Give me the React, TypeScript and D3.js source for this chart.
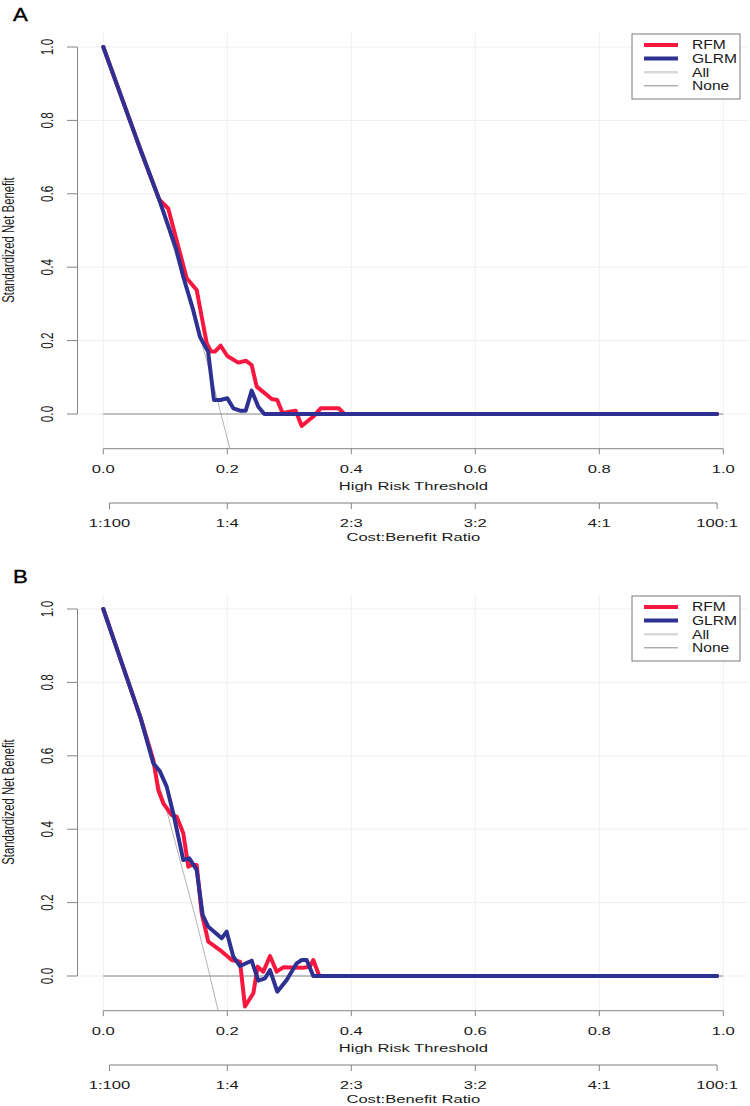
import React from "react";
import * as d3 from "d3";

// ---------- data ----------
const xTicks = [0, 0.2, 0.4, 0.6, 0.8, 1.0];
const xTickLabels = ["0.0", "0.2", "0.4", "0.6", "0.8", "1.0"];
const yTicks = [0, 0.2, 0.4, 0.6, 0.8, 1.0];
const yTickLabels = ["0.0", "0.2", "0.4", "0.6", "0.8", "1.0"];
const cbTicks = [0.01, 0.2, 0.4, 0.6, 0.8, 0.99];
const cbLabels = ["1:100", "1:4", "2:3", "3:2", "4:1", "100:1"];
const legendLabels = ["RFM", "GLRM", "All", "None"];
const panelLabels = ["A", "B"];

type Pt = [number, number];

const rfmA: Pt[] = [
  [0, 1], [0.03, 0.86], [0.06, 0.72], [0.09, 0.585], [0.1047, 0.56], [0.1345, 0.37],
  [0.1506, 0.338], [0.1587, 0.265], [0.1668, 0.193], [0.1737, 0.17], [0.18, 0.17],
  [0.1893, 0.186], [0.2, 0.158], [0.2177, 0.14], [0.2302, 0.145], [0.2393, 0.1335],
  [0.2474, 0.0745], [0.2608, 0.0563], [0.2716, 0.041], [0.2806, 0.038], [0.2893, 0.002],
  [0.3, 0.0064], [0.3103, 0.009], [0.32, -0.0327], [0.3387, -0.007], [0.3506, 0.0155],
  [0.38, 0.0155], [0.3887, 0], [0.99, 0],
];
const glrmA: Pt[] = [
  [0, 1], [0.03, 0.86], [0.06, 0.72], [0.09, 0.585], [0.118, 0.447], [0.129, 0.374],
  [0.145, 0.283], [0.156, 0.21], [0.169, 0.17], [0.1785, 0.038], [0.189, 0.038],
  [0.2, 0.043], [0.2097, 0.0155], [0.2205, 0.009], [0.2297, 0.009], [0.2393, 0.0636],
  [0.25, 0.02], [0.2597, 0], [0.99, 0],
];
const allA: Pt[] = [
  [0, 1], [0.05, 0.776], [0.1, 0.526], [0.15, 0.248], [0.18, 0.064], [0.2043, -0.095],
];

const rfmB: Pt[] = [
  [0, 1], [0.03, 0.852], [0.06, 0.704], [0.0806, 0.589], [0.0887, 0.507], [0.0968, 0.4705],
  [0.1103, 0.4387], [0.1184, 0.434], [0.129, 0.389], [0.1371, 0.298], [0.1426, 0.3025],
  [0.1506, 0.3025], [0.1587, 0.171], [0.1694, 0.0935], [0.1882, 0.0708], [0.2071, 0.0436],
  [0.2205, 0.039], [0.2285, -0.083], [0.242, -0.047], [0.249, 0.0255], [0.258, 0.0118],
  [0.2689, 0.0545], [0.2797, 0.0118], [0.2903, 0.0236], [0.3226, 0.0227], [0.3334, 0.0255],
  [0.3387, 0.0436], [0.3484, 0], [0.99, 0],
];
const glrmB: Pt[] = [
  [0, 1], [0.03, 0.852], [0.06, 0.704], [0.0806, 0.58], [0.0915, 0.557], [0.1022, 0.516],
  [0.1129, 0.443], [0.129, 0.316], [0.1387, 0.3205], [0.1506, 0.289], [0.1603, 0.166],
  [0.1694, 0.134], [0.191, 0.1027], [0.199, 0.1207], [0.2097, 0.0526], [0.2205, 0.0272],
  [0.2393, 0.0417], [0.25, -0.0128], [0.2608, -0.0063], [0.2689, 0.0163], [0.2806, -0.0428],
  [0.2958, -0.0109], [0.3119, 0.0346], [0.32, 0.0436], [0.328, 0.0436], [0.3387, 0], [0.99, 0],
];
const allB: Pt[] = [
  [0, 1], [0.05, 0.747], [0.1, 0.465], [0.15, 0.1505], [0.17, 0.014], [0.1855, -0.0966],
];
const noneLine: Pt[] = [[0, 0], [1, 0]];

// ---------- style ----------
const RED = "#f8173f";
const BLUE = "#2e3192";
const AXIS = "#858585";
const GRID = "#efefef";
const TXT = "#1a1a1a";
const FONT = "'Liberation Sans', Arial, Helvetica, sans-serif";
const SX = 1.42; // horizontal stretch of the original image

const PANEL_DY = 562;

function HText({ x, y, children, size = 11.7, anchor = "middle", sx = SX }: any) {
  return (
    <text
      transform={`translate(${x},${y}) scale(${sx},1)`}
      textAnchor={anchor}
      dominantBaseline="central"
      fontSize={size}
      fontFamily={FONT}
      fill={TXT}
    >
      {children}
    </text>
  );
}

function VText({ x, y, children, size = 11.8 }: any) {
  return (
    <text
      transform={`translate(${x},${y}) rotate(-90) scale(1,${SX})`}
      textAnchor="middle"
      dominantBaseline="central"
      fontSize={size}
      fontFamily={FONT}
      fill={TXT}
    >
      {children}
    </text>
  );
}

function Panel({ idx, rfm, glrm, all }: { idx: number; rfm: Pt[]; glrm: Pt[]; all: Pt[] }) {
  const dy = idx * PANEL_DY;
  const x = d3.scaleLinear().domain([0, 1]).range([103.3, 723.3]);
  const y = d3.scaleLinear().domain([0, 1]).range([414 + dy, 47 + dy]);
  const xLo = x(-0.04);
  const xHi = x(1.04);
  const yLo = y(-0.0946);
  const yHi = y(1.042);
  const line = d3
    .line<Pt>()
    .x((d) => x(d[0]))
    .y((d) => y(d[1]));
  const clipId = `clip${idx}`;
  const axisY = yLo;
  const cbY = axisY + 54.3;

  const legX = 632;
  const legY = 34 + dy;
  const legW = 108;
  const legH = 65;
  const legRows = [
    { c: RED, w: 4 },
    { c: BLUE, w: 4 },
    { c: "#d9d9d9", w: 2.5 },
    { c: "#8a8a8a", w: 1 },
  ];

  return (
    <g>
      <defs>
        <clipPath id={clipId}>
          <rect x={xLo} y={yHi} width={xHi - xLo} height={yLo - yHi} />
        </clipPath>
      </defs>
      {/* panel label */}
      <text
        transform={`translate(13,${20.5 + dy}) scale(1.2,1)`}
        fontSize={18.5}
        fontFamily={FONT}
        fill="#000"
        stroke="#000"
        strokeWidth={0.35}
      >
        {panelLabels[idx]}
      </text>
      {/* grid */}
      <g clipPath={`url(#${clipId})`}>
        {xTicks.map((t) => (
          <line key={"gx" + t} x1={x(t)} x2={x(t)} y1={yHi} y2={yLo} stroke={GRID} strokeWidth={1} />
        ))}
        {yTicks.map((t) => (
          <line key={"gy" + t} x1={xLo} x2={xHi} y1={y(t)} y2={y(t)} stroke={GRID} strokeWidth={1} />
        ))}
        <path d={line(all) || ""} fill="none" stroke="#b4b4b4" strokeWidth={1} />
        <path d={line(noneLine) || ""} fill="none" stroke="#8a8a8a" strokeWidth={1} />
        <path d={line(rfm) || ""} fill="none" stroke={RED} strokeWidth={4} strokeLinejoin="round" strokeLinecap="round" />
        <path d={line(glrm) || ""} fill="none" stroke={BLUE} strokeWidth={4} strokeLinejoin="round" strokeLinecap="round" />
      </g>
      {/* y axis */}
      <line x1={77.5} x2={77.5} y1={y(0)} y2={y(1)} stroke={AXIS} strokeWidth={1} />
      {yTicks.map((t, i) => (
        <g key={"yt" + t}>
          <line x1={67} x2={77.5} y1={y(t)} y2={y(t)} stroke={AXIS} strokeWidth={1} />
          <VText x={47} y={y(t)}>{yTickLabels[i]}</VText>
        </g>
      ))}
      <VText x={8.5} y={240 + dy} size={11.3}>Standardized Net Benefit</VText>
      {/* x axis */}
      <line x1={x(0)} x2={x(1)} y1={axisY} y2={axisY} stroke={AXIS} strokeWidth={1} />
      {xTicks.map((t, i) => (
        <g key={"xt" + t}>
          <line x1={x(t)} x2={x(t)} y1={axisY} y2={axisY + 5.5} stroke={AXIS} strokeWidth={1} />
          <HText x={x(t)} y={axisY + 20.5}>{xTickLabels[i]}</HText>
        </g>
      ))}
      <HText x={x(0.5)} y={axisY + 37.5}>High Risk Threshold</HText>
      {/* cost:benefit axis */}
      <line x1={x(cbTicks[0])} x2={x(cbTicks[cbTicks.length - 1])} y1={cbY} y2={cbY} stroke="#a8a8a8" strokeWidth={1.6} />
      {cbTicks.map((t, i) => (
        <g key={"cb" + t}>
          <line x1={x(t)} x2={x(t)} y1={cbY} y2={cbY + 6} stroke={AXIS} strokeWidth={1} />
          <HText x={x(t)} y={cbY + 20}>{cbLabels[i]}</HText>
        </g>
      ))}
      <HText x={x(0.5)} y={cbY + 34}>Cost:Benefit Ratio</HText>
      {/* legend */}
      <rect x={legX} y={legY} width={legW} height={legH} fill="#fff" stroke="#7a7a7a" strokeWidth={1} />
      {legendLabels.map((lab, i) => {
        const ly = legY + 11 + i * 13.6;
        return (
          <g key={lab}>
            <line x1={644} x2={678} y1={ly} y2={ly} stroke={legRows[i].c} strokeWidth={legRows[i].w} />
            <HText x={692} y={ly} anchor="start" size={12} sx={1.3}>{lab}</HText>
          </g>
        );
      })}
    </g>
  );
}

export default function App() {
  return (
    <svg
      width={750}
      height={1106}
      viewBox="0 0 750 1106"
      style={{ position: "absolute", left: 0, top: 0, background: "#fff" }}
    >
      <rect x={0} y={0} width={750} height={1106} fill="#fff" />
      <Panel idx={0} rfm={rfmA} glrm={glrmA} all={allA} />
      <Panel idx={1} rfm={rfmB} glrm={glrmB} all={allB} />
    </svg>
  );
}
